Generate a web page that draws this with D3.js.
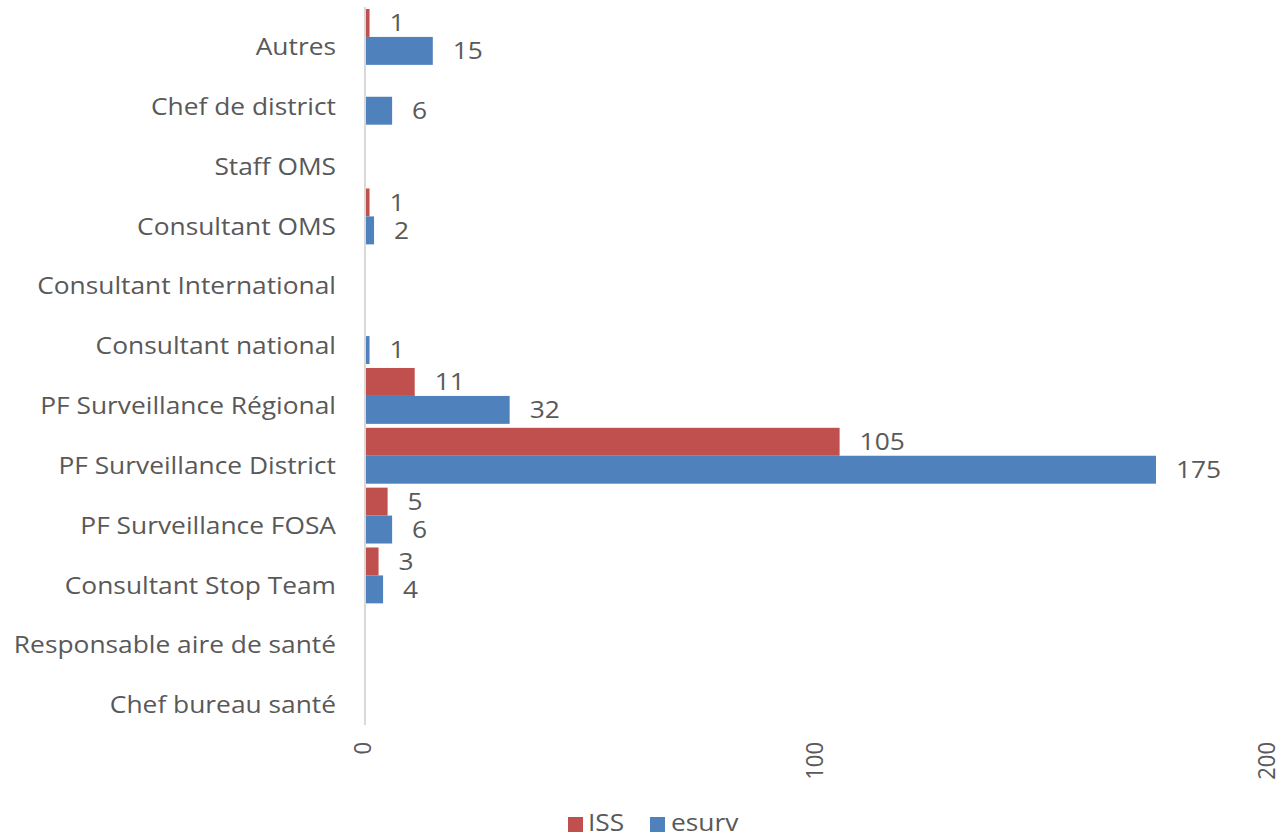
<!DOCTYPE html>
<html>
<head>
<meta charset="utf-8">
<script src="https://cdn.jsdelivr.net/npm/d3@7"></script>
<style>
  html, body { margin: 0; padding: 0; background: #fff; }
  svg { display: block; }
  text { font-family: "Open Sans", sans-serif; fill: #595959; }
</style>
</head>
<body>
<svg id="chart" width="1281" height="839"></svg>
<script>
// Categories, top to bottom
const categories = [
  "Autres", "Chef de district", "Staff OMS", "Consultant OMS",
  "Consultant International", "Consultant national",
  "PF Surveillance Régional", "PF Surveillance District",
  "PF Surveillance FOSA", "Consultant Stop Team",
  "Responsable aire de santé", "Chef bureau santé"
];
const seriesNames = ["ISS", "esurv"];
const issValues   = [1, 0, 0, 1, 0, 0, 11, 105, 5, 3, 0, 0];
const esurvValues = [15, 6, 0, 2, 0, 1, 32, 175, 6, 4, 0, 0];
const xTicks = [0, 100, 200];

const colors = { ISS: "#C0504D", esurv: "#4F81BD" };
const FONT = 23;
const WIDEN = 1.145;   // text is set slightly wide

const svg = d3.select("#chart");

const x = d3.scaleLinear().domain([0, 200]).range([365, 1269]);
const y = d3.scaleBand().domain(categories).range([7, 725]).paddingInner(0.066).paddingOuter(0.033);
const ySub = d3.scaleBand().domain(seriesNames).range([0, y.bandwidth()]);

const rows = categories.map((c, i) => ({ cat: c, ISS: issValues[i], esurv: esurvValues[i] }));

// Bars and value labels
const groups = svg.append("g").selectAll("g").data(rows).join("g")
  .attr("transform", d => `translate(0,${y(d.cat)})`);

const present = d => seriesNames.map(s => ({ s, v: d[s] })).filter(e => e.v > 0);

groups.selectAll("rect")
  .data(present)
  .join("rect")
  .attr("x", x(0))
  .attr("y", e => ySub(e.s))
  .attr("width", e => x(e.v) - x(0))
  .attr("height", ySub.bandwidth())
  .attr("fill", e => colors[e.s]);

groups.selectAll("text.val")
  .data(present)
  .join("text")
  .attr("class", "val")
  .attr("transform", e => `translate(${x(e.v) + 20},${ySub(e.s) + ySub.bandwidth() / 2 + 2}) scale(${WIDEN},1)`)
  .attr("dominant-baseline", "middle")
  .attr("font-size", FONT)
  .text(e => e.v);

// Category axis line
svg.append("line")
  .attr("x1", x(0)).attr("x2", x(0))
  .attr("y1", 7).attr("y2", 725)
  .attr("stroke", "#d9d9d9").attr("stroke-width", 2);

// Category labels
svg.append("g").selectAll("text").data(categories).join("text")
  .attr("transform", c => `translate(336,${y(c) + y.bandwidth() / 2 + 12}) scale(${WIDEN},1)`)
  .attr("text-anchor", "end")
  .attr("dominant-baseline", "middle")
  .attr("font-size", FONT)
  .text(c => c);

// Value axis tick labels (rotated)
svg.append("g").selectAll("text").data(xTicks).join("text")
  .attr("transform", t => `translate(${x(t)},742) rotate(-90) scale(1,1.08)`)
  .attr("text-anchor", "end")
  .attr("dominant-baseline", "middle")
  .attr("font-size", 22)
  .text(t => t);

// Legend
const legend = svg.append("g");
const legendItems = [
  { name: "ISS", sx: 568, tx: 588 },
  { name: "esurv", sx: 650, tx: 671 }
];
legendItems.forEach(it => {
  legend.append("rect")
    .attr("x", it.sx).attr("y", 817).attr("width", 15).attr("height", 15)
    .attr("fill", colors[it.name]);
  legend.append("text")
    .attr("transform", `translate(${it.tx},825) scale(${WIDEN},1)`)
    .attr("dominant-baseline", "middle")
    .attr("font-size", FONT)
    .text(it.name);
});
</script>
</body>
</html>
